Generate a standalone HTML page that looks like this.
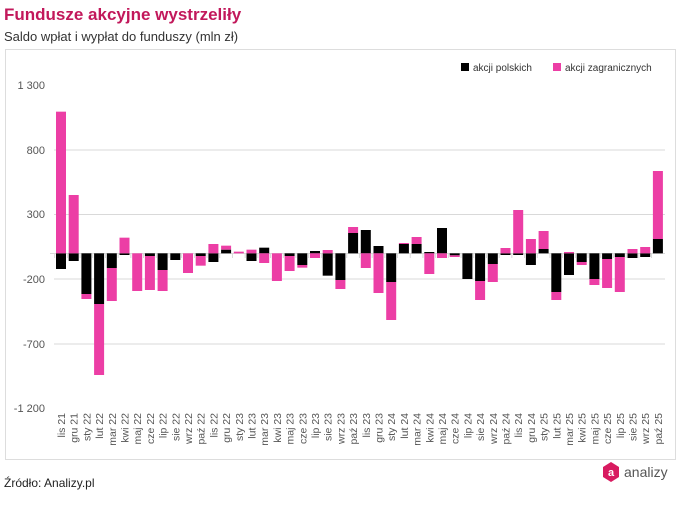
<!DOCTYPE html>
<html><head><meta charset="utf-8"><style>
body{margin:0;background:#fff;width:681px;height:500px;overflow:hidden;font-family:"Liberation Sans",sans-serif}
</style></head><body>
<svg id="s" width="681" height="500" xmlns="http://www.w3.org/2000/svg" font-family="Liberation Sans, sans-serif">
<text x="4" y="20" font-size="17" font-weight="bold" fill="#c2185b">Fundusze akcyjne wystrzeliły</text>
<text x="4" y="41" font-size="13" fill="#333">Saldo wpłat i wypłat do funduszy (mln zł)</text>
<rect x="5.5" y="49.5" width="670" height="410" fill="none" stroke="#ddd"/>
<g stroke="#d9d9d9" stroke-width="1">
<line x1="54" x2="665" y1="150" y2="150"/>
<line x1="54" x2="665" y1="214.5" y2="214.5"/>
<line x1="54" x2="665" y1="279" y2="279"/>
<line x1="54" x2="665" y1="344" y2="344"/>
</g>
<g font-size="11" fill="#555" text-anchor="end">
<text x="45" y="89">1 300</text><text x="45" y="154">800</text><text x="45" y="218">300</text>
<text x="45" y="283">-200</text><text x="45" y="348">-700</text><text x="45" y="412">-1 200</text>
</g>
<rect x="461" y="63" width="8" height="8" fill="#000"/>
<text x="473" y="71" font-size="10" fill="#333">akcji polskich</text>
<rect x="553" y="63" width="8" height="8" fill="#ec3ea5"/>
<text x="565" y="71" font-size="10" fill="#333">akcji zagranicznych</text>
<g id="bars"></g>
<g id="labs" font-size="10.5" fill="#555" text-anchor="end"></g>
<text x="4" y="487" font-size="12" fill="#222">Źródło: Analizy.pl</text>
<polygon points="611,462 619,467 619,477 611,482 603,477 603,467" fill="#d81b60"/>
<text x="611" y="476" font-size="11" font-weight="bold" fill="#fff" text-anchor="middle">a</text>
<text x="624" y="477" font-size="14" fill="#555">analizy</text>
</svg>
<script>
var d=[[460,507,35,460],[460,483,285,460],[460,582,582,597],[460,612,612,825],[460,504,504,603],[460,465,413,460],[460,460,460,573],[460,468,468,570],[460,510,510,573],[460,480,460,460],[460,460,460,519],[460,468,468,497],[460,486,432,460],[449,460,437,449],[460,460,455,460],[460,483,449,460],[443,460,460,489],[460,460,460,543],[460,468,468,513],[460,495,495,503],[453,460,460,474],[460,527,450,460],[460,540,540,567],[399,460,381,399],
[390,460,460,504],[438,460,460,579],[460,546,546,660],[432,460,429,432],[432,460,411,432],[456,460,460,522],[384,460,460,474],[460,466,466,471],[460,537,460,460],[460,543,543,600],[460,492,492,546],[460,465,444,460],[460,465,330,460],[460,495,417,460],[447,460,393,447],[460,576,576,600],[460,525,456,460],[460,486,486,495],[460,537,537,555],[460,477,477,564],[460,471,471,576],[460,474,447,460],[460,471,441,460],[417,460,213,417]];
var m=["sty","lut","mar","kwi","maj","cze","lip","sie","wrz","paź","lis","gru"];
var ns="http://www.w3.org/2000/svg",B=document.getElementById("bars"),L=document.getElementById("labs");
function r(x,y0,y1,c){if(y1-y0<0.2)return;var e=document.createElementNS(ns,"rect");e.setAttribute("x",x);e.setAttribute("y",100+y0/3);e.setAttribute("width",10);e.setAttribute("height",(y1-y0)/3);e.setAttribute("fill",c);B.appendChild(e);}
var base=document.createElementNS(ns,"line");base.setAttribute("x1",50);base.setAttribute("x2",665);base.setAttribute("y1",253.5);base.setAttribute("y2",253.5);base.setAttribute("stroke","#d9d9d9");B.appendChild(base);
for(var i=0;i<48;i++){var x=56+i*12.7;
var t=document.createElementNS(ns,"line");var tx=x-1.35;t.setAttribute("x1",tx);t.setAttribute("x2",tx);t.setAttribute("y1",253);t.setAttribute("y2",258);t.setAttribute("stroke","#d9d9d9");B.appendChild(t);
r(x,d[i][0],d[i][1],"#000");r(x,d[i][2],d[i][3],"#ec3ea5");
var mi=(10+i)%12,yr=21+Math.floor((10+i)/12);
var tt=document.createElementNS(ns,"text");var cx=x+5+4;tt.setAttribute("transform","translate("+cx+",413) rotate(-90)");tt.textContent=m[mi]+" "+yr;L.appendChild(tt);}
</script>
</body></html>
